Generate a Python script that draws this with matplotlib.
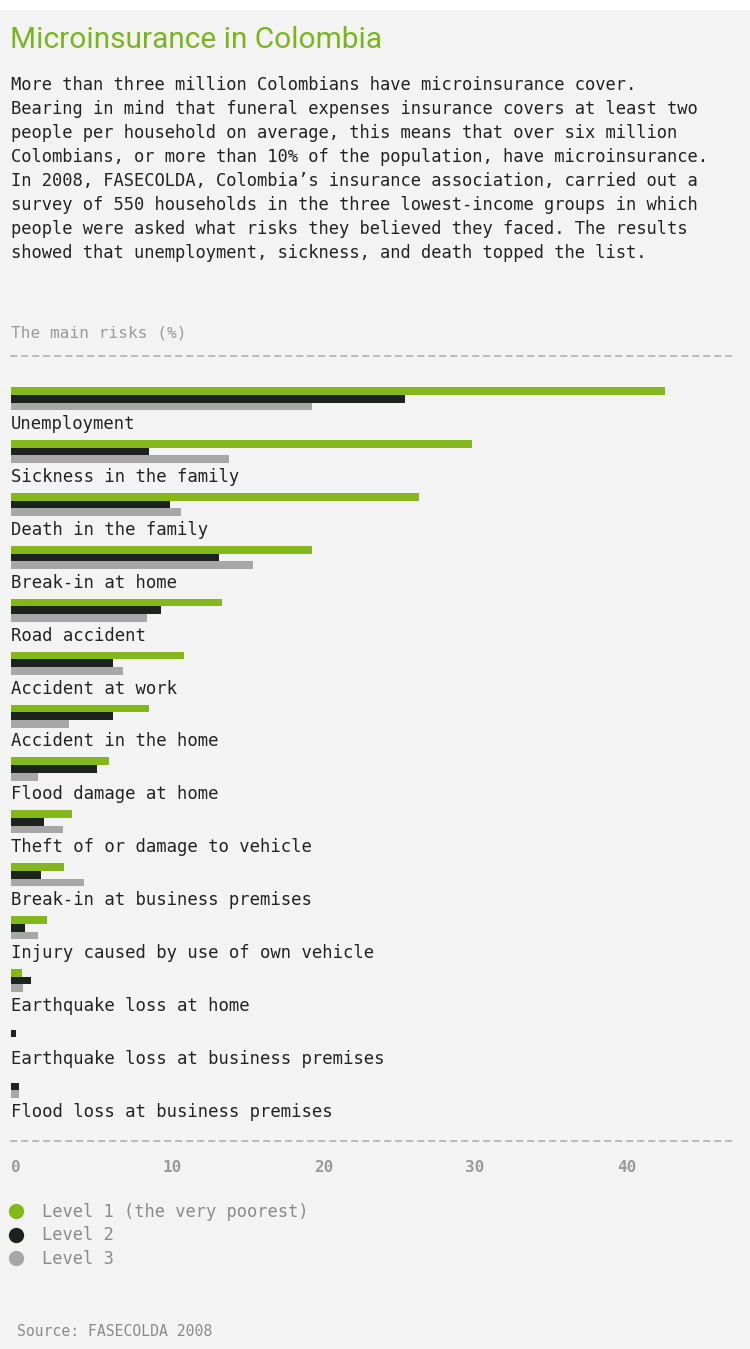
import numpy as np
import matplotlib
matplotlib.use('Agg')
import matplotlib.pyplot as plt
from matplotlib.patches import Rectangle
from matplotlib.lines import Line2D

# Data (percent of households naming each risk)
categories = [
    'Unemployment',
    'Sickness in the family',
    'Death in the family',
    'Break-in at home',
    'Road accident',
    'Accident at work',
    'Accident in the home',
    'Flood damage at home',
    'Theft of or damage to vehicle',
    'Break-in at business premises',
    'Injury caused by use of own vehicle',
    'Earthquake loss at home',
    'Earthquake loss at business premises',
    'Flood loss at business premises',
]
level1 = [43.2, 30.4, 26.9, 19.9, 13.9, 11.4, 9.1, 6.5, 4.0, 3.5, 2.4, 0.7, 0.0, 0.0]
level2 = [26.0, 9.1, 10.5, 13.7, 9.9, 6.7, 6.7, 5.7, 2.2, 2.0, 0.9, 1.3, 0.3, 0.5]
level3 = [19.9, 14.4, 11.2, 16.0, 9.0, 7.4, 3.8, 1.8, 3.4, 4.8, 1.8, 0.8, 0.0, 0.5]
series_names = ['Level 1 (the very poorest)', 'Level 2', 'Level 3']
xticks = [0, 10, 20, 30, 40]

intro = [
    "More than three million Colombians have microinsurance cover.",
    "Bearing in mind that funeral expenses insurance covers at least two",
    "people per household on average, this means that over six million",
    "Colombians, or more than 10% of the population, have microinsurance.",
    "In 2008, FASECOLDA, Colombia\u2019s insurance association, carried out a",
    "survey of 550 households in the three lowest-income groups in which",
    "people were asked what risks they believed they faced. The results",
    "showed that unemployment, sickness, and death topped the list.",
]

colors = ['#84b81a', '#1c231d', '#a6a7a6']
bg = '#f3f3f3'
W, H = 750, 1349

fig = plt.figure(figsize=(W / 100, H / 100), dpi=100)
fig.patch.set_facecolor(bg)
# white strip at the very top
fig.add_artist(Rectangle((0, 1 - 10 / H), 1, 10 / H, transform=fig.transFigure,
                         facecolor='white', edgecolor='none'))


def ftext(x, y, s, **kw):
    # place text using pixel coordinates from the top-left corner
    fig.text(x / W, 1 - y / H, s, va='baseline', ha='left', **kw)


ftext(10, 48, 'Microinsurance in Colombia', family='Roboto', fontsize=21.5,
      color='#7ab51d')
for k, line in enumerate(intro):
    ftext(11, 90 + 24 * k, line, family='DejaVu Sans Mono', fontsize=12.35,
          color='#222222')
ftext(11, 337, 'The main risks (%)', family='DejaVu Sans Mono', fontsize=11.6,
      color='#9a9a9a')

# bar axes: 0 at x=11px, 15.15 px per unit; top dashed line at 356, bottom 1141
ax_left, ax_right, ax_top, ax_bot = 11, 737, 356, 1141
ax = fig.add_axes([ax_left / W, 1 - ax_bot / H, (ax_right - ax_left) / W,
                   (ax_bot - ax_top) / H])
ax.set_facecolor(bg)
ppu = 15.15
ax.set_xlim(0, (ax_right - ax_left) / ppu)
pitch = 52.9
y_top = -(391 - ax_top) / pitch
ax.set_ylim(y_top + (ax_bot - ax_top) / pitch, y_top)

y = np.arange(len(categories))
bar_h = 7.7 / pitch
for j, vals in enumerate([level1, level2, level3]):
    ax.barh(y + j * bar_h, vals, height=bar_h, color=colors[j], linewidth=0)

for i, name in enumerate(categories):
    ax.text(0, i + 38 / pitch, name, va='baseline', ha='left',
            family='DejaVu Sans Mono', fontsize=12.4, color='#222222')

for side in ['left', 'right']:
    ax.spines[side].set_visible(False)
for side in ['top', 'bottom']:
    ax.spines[side].set_linestyle((0, (3.6, 3.6)))
    ax.spines[side].set_color('#aaaaaa')
    ax.spines[side].set_linewidth(1.1)
ax.set_yticks([])
ax.set_xticks(xticks)
ax.set_xticklabels([str(t) for t in xticks], family='DejaVu Sans Mono',
                   fontsize=11.5, fontweight='bold', color='#9a9a9a', ha='left')
ax.tick_params(axis='x', length=0, pad=13.5)

# legend
for j, name in enumerate(series_names):
    yy = 1211 + 23.5 * j
    fig.add_artist(Line2D([16 / W], [1 - yy / H], transform=fig.transFigure,
                          marker='o', markersize=10, color=colors[j],
                          linestyle='none'))
    ftext(42, yy + 6, name, family='DejaVu Sans Mono', fontsize=12.3,
          color='#8a8a8a')

ftext(17, 1336, 'Source: FASECOLDA 2008', family='DejaVu Sans Mono',
      fontsize=10.6, color='#8a8a8a')

fig.savefig('out.png', dpi=100, facecolor=bg)
